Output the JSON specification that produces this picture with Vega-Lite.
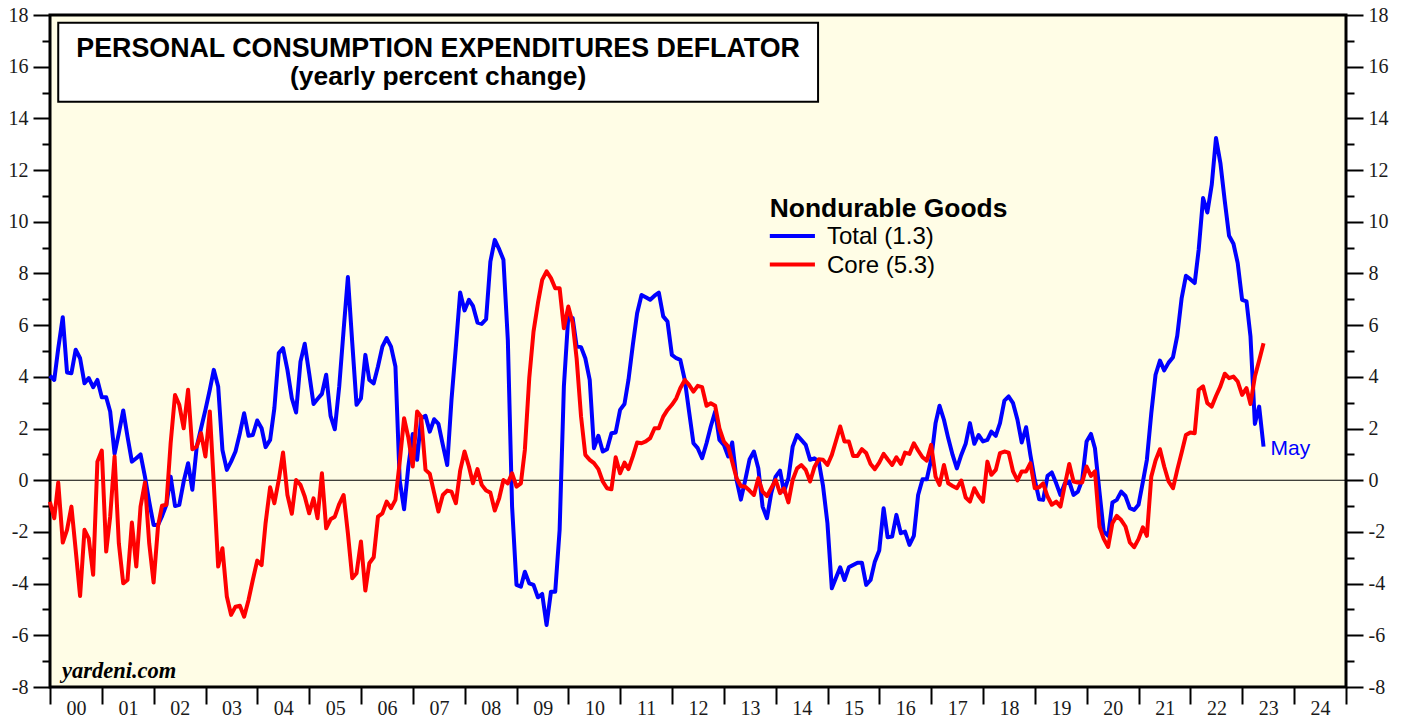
{
 "$schema": "https://vega.github.io/schema/vega-lite/v6.json",
 "width": 1296,
 "height": 672,
 "autosize": {"type": "none"},
 "padding": {"left": 50, "top": 15, "right": 59, "bottom": 32},
 "background": "white",
 "config": {
  "view": {"stroke": "black", "strokeWidth": 3, "fill": "#FFFDE6"},
  "axis": {"grid": false, "domain": false, "title": null, "labelFont": "Liberation Serif", "labelFontSize": 20, "labelColor": "#1a1a1a", "tickColor": "black", "tickWidth": 2, "labelFlush": false, "labelOverlap": false}
 },
 "datasets": {
  "pce": [
   {"d":"1999-12-31","t":4.04,"c":-0.83},
   {"d":"2000-01-31","t":3.88,"c":-1.47},{"d":"2000-02-28","t":5.1,"c":-0.09},{"d":"2000-03-31","t":6.31,"c":-2.41},{"d":"2000-04-30","t":4.17,"c":-1.92},{"d":"2000-05-31","t":4.14,"c":-1.02},{"d":"2000-06-30","t":5.05,"c":-2.7},{"d":"2000-07-31","t":4.72,"c":-4.48},{"d":"2000-08-31","t":3.75,"c":-1.92},{"d":"2000-09-30","t":3.95,"c":-2.25},{"d":"2000-10-31","t":3.6,"c":-3.66},{"d":"2000-11-30","t":3.88,"c":0.72},{"d":"2000-12-31","t":3.21,"c":1.15},
   {"d":"2001-01-31","t":3.21,"c":-2.76},{"d":"2001-02-28","t":2.66,"c":-1.41},{"d":"2001-03-31","t":1.02,"c":0.92},{"d":"2001-04-30","t":1.82,"c":-2.44},{"d":"2001-05-31","t":2.7,"c":-3.99},{"d":"2001-06-30","t":1.69,"c":-3.86},{"d":"2001-07-31","t":0.72,"c":-1.64},{"d":"2001-08-31","t":0.85,"c":-3.34},{"d":"2001-09-30","t":1.0,"c":-1.02},{"d":"2001-10-31","t":0.14,"c":-0.09},{"d":"2001-11-30","t":-0.83,"c":-2.44},{"d":"2001-12-31","t":-1.73,"c":-3.96},
   {"d":"2002-01-31","t":-1.73,"c":-1.79},{"d":"2002-02-28","t":-1.4,"c":-0.99},{"d":"2002-03-31","t":-0.95,"c":-0.95},{"d":"2002-04-30","t":0.14,"c":1.43},{"d":"2002-05-31","t":-1.0,"c":3.3},{"d":"2002-06-30","t":-0.95,"c":2.92},{"d":"2002-07-31","t":-0.05,"c":2.01},{"d":"2002-08-31","t":0.66,"c":3.5},{"d":"2002-09-30","t":-0.37,"c":1.2},{"d":"2002-10-31","t":1.3,"c":1.3},{"d":"2002-11-30","t":2.0,"c":1.82},{"d":"2002-12-31","t":2.72,"c":0.92},
   {"d":"2003-01-31","t":3.5,"c":2.66},{"d":"2003-02-28","t":4.27,"c":-0.12},{"d":"2003-03-31","t":3.63,"c":-3.34},{"d":"2003-04-30","t":1.17,"c":-2.63},{"d":"2003-05-31","t":0.4,"c":-4.5},{"d":"2003-06-30","t":0.72,"c":-5.21},{"d":"2003-07-31","t":1.11,"c":-4.89},{"d":"2003-08-31","t":1.82,"c":-4.86},{"d":"2003-09-30","t":2.59,"c":-5.28},{"d":"2003-10-31","t":1.72,"c":-4.63},{"d":"2003-11-30","t":1.75,"c":-3.86},{"d":"2003-12-31","t":2.31,"c":-3.11},
   {"d":"2004-01-31","t":2.01,"c":-3.28},{"d":"2004-02-28","t":1.28,"c":-1.66},{"d":"2004-03-31","t":1.56,"c":-0.27},{"d":"2004-04-30","t":2.79,"c":-0.89},{"d":"2004-05-31","t":4.92,"c":0.01},{"d":"2004-06-30","t":5.11,"c":1.07},{"d":"2004-07-31","t":4.27,"c":-0.57},{"d":"2004-08-31","t":3.17,"c":-1.3},{"d":"2004-09-30","t":2.62,"c":0.01},{"d":"2004-10-31","t":4.59,"c":-0.18},{"d":"2004-11-30","t":5.28,"c":-0.63},{"d":"2004-12-31","t":4.14,"c":-1.28},
   {"d":"2005-01-31","t":2.95,"c":-0.7},{"d":"2005-02-28","t":3.14,"c":-1.47},{"d":"2005-03-31","t":3.34,"c":0.27},{"d":"2005-04-30","t":4.08,"c":-1.86},{"d":"2005-05-31","t":2.49,"c":-1.51},{"d":"2005-06-30","t":1.97,"c":-1.41},{"d":"2005-07-31","t":3.63,"c":-0.92},{"d":"2005-08-31","t":5.82,"c":-0.57},{"d":"2005-09-30","t":7.86,"c":-2.05},{"d":"2005-10-31","t":5.3,"c":-3.79},{"d":"2005-11-30","t":2.92,"c":-3.6},{"d":"2005-12-31","t":3.17,"c":-2.37},
   {"d":"2006-01-31","t":4.85,"c":-4.27},{"d":"2006-02-28","t":3.88,"c":-3.21},{"d":"2006-03-31","t":3.75,"c":-2.98},{"d":"2006-04-30","t":4.4,"c":-1.41},{"d":"2006-05-31","t":5.17,"c":-1.28},{"d":"2006-06-30","t":5.5,"c":-0.83},{"d":"2006-07-31","t":5.17,"c":-1.08},{"d":"2006-08-31","t":4.4,"c":-0.76},{"d":"2006-09-30","t":0.0,"c":0.7},{"d":"2006-10-31","t":-1.12,"c":2.4},{"d":"2006-11-30","t":0.53,"c":1.65},{"d":"2006-12-31","t":1.79,"c":0.53},
   {"d":"2007-01-31","t":0.79,"c":2.66},{"d":"2007-02-28","t":2.4,"c":2.46},{"d":"2007-03-31","t":2.49,"c":0.4},{"d":"2007-04-30","t":1.88,"c":0.25},{"d":"2007-05-31","t":2.36,"c":-0.5},{"d":"2007-06-30","t":2.18,"c":-1.21},{"d":"2007-07-31","t":1.37,"c":-0.57},{"d":"2007-08-31","t":0.59,"c":-0.4},{"d":"2007-09-30","t":3.11,"c":-0.44},{"d":"2007-10-31","t":5.17,"c":-0.89},{"d":"2007-11-30","t":7.26,"c":0.37},{"d":"2007-12-31","t":6.57,"c":1.11},
   {"d":"2008-01-31","t":6.98,"c":0.53},{"d":"2008-02-28","t":6.75,"c":-0.12},{"d":"2008-03-31","t":6.1,"c":0.43},{"d":"2008-04-30","t":6.05,"c":-0.18},{"d":"2008-05-31","t":6.23,"c":-0.4},{"d":"2008-06-30","t":8.46,"c":-0.48},{"d":"2008-07-31","t":9.3,"c":-1.17},{"d":"2008-08-31","t":8.94,"c":-0.7},{"d":"2008-09-30","t":8.53,"c":0.01},{"d":"2008-10-31","t":5.43,"c":-0.12},{"d":"2008-11-30","t":-1.02,"c":0.27},{"d":"2008-12-31","t":-4.05,"c":-0.25},
   {"d":"2009-01-31","t":-4.12,"c":-0.12},{"d":"2009-02-28","t":-3.54,"c":1.17},{"d":"2009-03-31","t":-3.99,"c":3.95},{"d":"2009-04-30","t":-4.05,"c":5.75},{"d":"2009-05-31","t":-4.53,"c":6.85},{"d":"2009-06-30","t":-4.4,"c":7.75},{"d":"2009-07-31","t":-5.6,"c":8.08},{"d":"2009-08-31","t":-4.31,"c":7.82},{"d":"2009-09-30","t":-4.31,"c":7.43},{"d":"2009-10-31","t":-1.92,"c":7.43},{"d":"2009-11-30","t":3.63,"c":5.88},{"d":"2009-12-31","t":6.34,"c":6.72},
   {"d":"2010-01-31","t":6.27,"c":6.08},{"d":"2010-02-28","t":5.17,"c":4.7},{"d":"2010-03-31","t":5.15,"c":2.46},{"d":"2010-04-30","t":4.72,"c":0.98},{"d":"2010-05-31","t":3.88,"c":0.79},{"d":"2010-06-30","t":1.24,"c":0.66},{"d":"2010-07-31","t":1.72,"c":0.43},{"d":"2010-08-31","t":1.11,"c":-0.05},{"d":"2010-09-30","t":1.2,"c":-0.31},{"d":"2010-10-31","t":1.82,"c":-0.35},{"d":"2010-11-30","t":1.85,"c":0.89},{"d":"2010-12-31","t":2.72,"c":0.27},
   {"d":"2011-01-31","t":2.95,"c":0.68},{"d":"2011-02-28","t":3.88,"c":0.43},{"d":"2011-03-31","t":5.24,"c":0.92},{"d":"2011-04-30","t":6.46,"c":1.46},{"d":"2011-05-31","t":7.17,"c":1.43},{"d":"2011-06-30","t":7.08,"c":1.5},{"d":"2011-07-31","t":6.98,"c":1.63},{"d":"2011-08-31","t":7.14,"c":2.01},{"d":"2011-09-30","t":7.26,"c":2.01},{"d":"2011-10-31","t":6.34,"c":2.46},{"d":"2011-11-30","t":6.14,"c":2.72},{"d":"2011-12-31","t":4.85,"c":2.92},
   {"d":"2012-01-31","t":4.72,"c":3.17},{"d":"2012-02-28","t":4.66,"c":3.56},{"d":"2012-03-31","t":3.88,"c":3.88},{"d":"2012-04-30","t":2.66,"c":3.69},{"d":"2012-05-31","t":1.43,"c":3.43},{"d":"2012-06-30","t":1.24,"c":3.65},{"d":"2012-07-31","t":0.85,"c":3.6},{"d":"2012-08-31","t":1.43,"c":2.88},{"d":"2012-09-30","t":2.08,"c":2.98},{"d":"2012-10-31","t":2.66,"c":2.88},{"d":"2012-11-30","t":1.56,"c":2.01},{"d":"2012-12-31","t":1.37,"c":1.5},
   {"d":"2013-01-31","t":0.92,"c":1.3},{"d":"2013-02-28","t":1.46,"c":0.72},{"d":"2013-03-31","t":0.01,"c":0.08},{"d":"2013-04-30","t":-0.75,"c":-0.22},{"d":"2013-05-31","t":0.01,"c":-0.25},{"d":"2013-06-30","t":0.8,"c":-0.4},{"d":"2013-07-31","t":1.11,"c":-0.57},{"d":"2013-08-31","t":0.46,"c":0.08},{"d":"2013-09-30","t":-1.02,"c":-0.44},{"d":"2013-10-31","t":-1.47,"c":-0.61},{"d":"2013-11-30","t":-0.5,"c":-0.31},{"d":"2013-12-31","t":0.14,"c":0.01},
   {"d":"2014-01-31","t":0.37,"c":-0.5},{"d":"2014-02-28","t":-0.44,"c":-0.31},{"d":"2014-03-31","t":0.08,"c":-0.86},{"d":"2014-04-30","t":1.3,"c":0.01},{"d":"2014-05-31","t":1.75,"c":0.46},{"d":"2014-06-30","t":1.56,"c":0.59},{"d":"2014-07-31","t":1.37,"c":0.4},{"d":"2014-08-31","t":0.79,"c":-0.05},{"d":"2014-09-30","t":0.85,"c":0.5},{"d":"2014-10-31","t":0.72,"c":0.81},{"d":"2014-11-30","t":-0.22,"c":0.79},{"d":"2014-12-31","t":-1.66,"c":0.59},
   {"d":"2015-01-31","t":-4.18,"c":0.98},{"d":"2015-02-28","t":-3.79,"c":1.5},{"d":"2015-03-31","t":-3.37,"c":2.08},{"d":"2015-04-30","t":-3.86,"c":1.5},{"d":"2015-05-31","t":-3.37,"c":1.5},{"d":"2015-06-30","t":-3.28,"c":0.94},{"d":"2015-07-31","t":-3.19,"c":0.94},{"d":"2015-08-31","t":-3.19,"c":1.2},{"d":"2015-09-30","t":-4.05,"c":1.05},{"d":"2015-10-31","t":-3.86,"c":0.63},{"d":"2015-11-30","t":-3.15,"c":0.43},{"d":"2015-12-31","t":-2.72,"c":0.68},
   {"d":"2016-01-31","t":-1.08,"c":1.02},{"d":"2016-02-28","t":-2.21,"c":0.81},{"d":"2016-03-31","t":-2.18,"c":0.59},{"d":"2016-04-30","t":-1.34,"c":0.89},{"d":"2016-05-31","t":-2.05,"c":0.63},{"d":"2016-06-30","t":-1.99,"c":1.07},{"d":"2016-07-31","t":-2.5,"c":1.02},{"d":"2016-08-31","t":-2.15,"c":1.43},{"d":"2016-09-30","t":-0.57,"c":1.15},{"d":"2016-10-31","t":0.04,"c":0.89},{"d":"2016-11-30","t":0.04,"c":0.76},{"d":"2016-12-31","t":0.8,"c":1.37},
   {"d":"2017-01-31","t":2.21,"c":0.14},{"d":"2017-02-28","t":2.88,"c":-0.18},{"d":"2017-03-31","t":2.34,"c":0.59},{"d":"2017-04-30","t":1.63,"c":-0.12},{"d":"2017-05-31","t":0.98,"c":-0.22},{"d":"2017-06-30","t":0.46,"c":-0.31},{"d":"2017-07-31","t":0.98,"c":-0.01},{"d":"2017-08-31","t":1.41,"c":-0.67},{"d":"2017-09-30","t":2.21,"c":-0.83},{"d":"2017-10-31","t":1.41,"c":-0.31},{"d":"2017-11-30","t":1.75,"c":-0.61},{"d":"2017-12-31","t":1.5,"c":-0.83},
   {"d":"2018-01-31","t":1.56,"c":0.72},{"d":"2018-02-28","t":1.88,"c":0.21},{"d":"2018-03-31","t":1.72,"c":0.4},{"d":"2018-04-30","t":2.21,"c":1.05},{"d":"2018-05-31","t":3.08,"c":1.11},{"d":"2018-06-30","t":3.24,"c":1.07},{"d":"2018-07-31","t":2.98,"c":0.34},{"d":"2018-08-31","t":2.34,"c":-0.01},{"d":"2018-09-30","t":1.46,"c":0.34},{"d":"2018-10-31","t":2.05,"c":0.34},{"d":"2018-11-30","t":0.98,"c":0.66},{"d":"2018-12-31","t":0.01,"c":-0.31},
   {"d":"2019-01-31","t":-0.74,"c":-0.27},{"d":"2019-02-28","t":-0.76,"c":-0.12},{"d":"2019-03-31","t":0.17,"c":-0.63},{"d":"2019-04-30","t":0.3,"c":-0.95},{"d":"2019-05-31","t":-0.12,"c":-0.83},{"d":"2019-06-30","t":-0.57,"c":-1.02},{"d":"2019-07-31","t":-0.12,"c":-0.18},{"d":"2019-08-31","t":-0.05,"c":0.63},{"d":"2019-09-30","t":-0.57,"c":-0.05},{"d":"2019-10-31","t":-0.44,"c":-0.09},{"d":"2019-11-30","t":0.01,"c":-0.09},{"d":"2019-12-31","t":1.5,"c":0.53},
   {"d":"2020-01-31","t":1.79,"c":0.17},{"d":"2020-02-28","t":1.24,"c":0.34},{"d":"2020-03-31","t":-0.45,"c":-1.8},{"d":"2020-04-30","t":-1.99,"c":-2.27},{"d":"2020-05-31","t":-2.15,"c":-2.58},{"d":"2020-06-30","t":-0.86,"c":-1.66},{"d":"2020-07-31","t":-0.76,"c":-1.38},{"d":"2020-08-31","t":-0.44,"c":-1.54},{"d":"2020-09-30","t":-0.61,"c":-1.79},{"d":"2020-10-31","t":-1.08,"c":-2.41},{"d":"2020-11-30","t":-1.15,"c":-2.59},{"d":"2020-12-31","t":-0.95,"c":-2.28},
   {"d":"2021-01-31","t":-0.05,"c":-1.82},{"d":"2021-02-28","t":0.79,"c":-2.15},{"d":"2021-03-31","t":2.59,"c":0.14},{"d":"2021-04-30","t":4.08,"c":0.76},{"d":"2021-05-31","t":4.63,"c":1.2},{"d":"2021-06-30","t":4.25,"c":0.53},{"d":"2021-07-31","t":4.55,"c":-0.05},{"d":"2021-08-31","t":4.76,"c":-0.31},{"d":"2021-09-30","t":5.59,"c":0.4},{"d":"2021-10-31","t":7.05,"c":1.07},{"d":"2021-11-30","t":7.91,"c":1.75},{"d":"2021-12-31","t":7.78,"c":1.85},
   {"d":"2022-01-31","t":7.63,"c":1.82},{"d":"2022-02-28","t":8.92,"c":3.5},{"d":"2022-03-31","t":10.92,"c":3.63},{"d":"2022-04-30","t":10.36,"c":2.98},{"d":"2022-05-31","t":11.43,"c":2.85},{"d":"2022-06-30","t":13.24,"c":3.26},{"d":"2022-07-31","t":12.27,"c":3.63},{"d":"2022-08-31","t":10.79,"c":4.12},{"d":"2022-09-30","t":9.46,"c":3.95},{"d":"2022-10-31","t":9.15,"c":4.01},{"d":"2022-11-30","t":8.4,"c":3.82},{"d":"2022-12-31","t":6.98,"c":3.3},
   {"d":"2023-01-31","t":6.92,"c":3.56},{"d":"2023-02-28","t":5.56,"c":2.95},{"d":"2023-03-31","t":2.18,"c":4.01},{"d":"2023-04-30","t":2.85,"c":4.63},{"d":"2023-05-31","t":1.3,"c":5.3}
  ]
 },
 "resolve": {"axis": {"x": "independent", "y": "independent"}},
 "layer": [
  {
   "data": {"values": [{}]},
   "mark": {"type": "rule", "color": "black", "strokeWidth": 1.2},
   "encoding": {
    "y": {"datum": 0, "type": "quantitative", "axis": null, "scale": {"domain": [-8, 18], "nice": false, "zero": false}}
   }
  },
  {
   "data": {"name": "pce"},
   "mark": {"type": "line", "color": "#0000FF", "strokeWidth": 4, "strokeJoin": "round"},
   "encoding": {
    "x": {"field": "d", "type": "temporal", "scale": {"type": "utc", "domain": [{"year": 2000, "month": 1, "date": 1, "utc": true}, {"year": 2025, "month": 1, "date": 1, "utc": true}], "nice": false},
     "axis": {"orient": "bottom", "values": [
      {"year": 2000, "month": 1, "date": 1, "utc": true}, {"year": 2001, "month": 1, "date": 1, "utc": true}, {"year": 2002, "month": 1, "date": 1, "utc": true}, {"year": 2003, "month": 1, "date": 1, "utc": true}, {"year": 2004, "month": 1, "date": 1, "utc": true}, {"year": 2005, "month": 1, "date": 1, "utc": true}, {"year": 2006, "month": 1, "date": 1, "utc": true}, {"year": 2007, "month": 1, "date": 1, "utc": true}, {"year": 2008, "month": 1, "date": 1, "utc": true}, {"year": 2009, "month": 1, "date": 1, "utc": true}, {"year": 2010, "month": 1, "date": 1, "utc": true}, {"year": 2011, "month": 1, "date": 1, "utc": true}, {"year": 2012, "month": 1, "date": 1, "utc": true}, {"year": 2013, "month": 1, "date": 1, "utc": true}, {"year": 2014, "month": 1, "date": 1, "utc": true}, {"year": 2015, "month": 1, "date": 1, "utc": true}, {"year": 2016, "month": 1, "date": 1, "utc": true}, {"year": 2017, "month": 1, "date": 1, "utc": true}, {"year": 2018, "month": 1, "date": 1, "utc": true}, {"year": 2019, "month": 1, "date": 1, "utc": true}, {"year": 2020, "month": 1, "date": 1, "utc": true}, {"year": 2021, "month": 1, "date": 1, "utc": true}, {"year": 2022, "month": 1, "date": 1, "utc": true}, {"year": 2023, "month": 1, "date": 1, "utc": true}, {"year": 2024, "month": 1, "date": 1, "utc": true}, {"year": 2025, "month": 1, "date": 1, "utc": true}],
      "labelExpr": "utcyear(datum.value) >= 2025 ? '' : utcFormat(datum.value, '%y')", "labelOffset": 26, "tickSize": 17, "labelPadding": -6}},
    "y": {"field": "t", "type": "quantitative", "scale": {"domain": [-8, 18], "nice": false, "zero": false}, "axis": {"orient": "left", "values": [-8, -6, -4, -2, 0, 2, 4, 6, 8, 10, 12, 14, 16, 18], "tickSize": 17, "labelPadding": 5, "labelExpr": "'' + datum.value"}}
   }
  },
  {
   "data": {"name": "pce"},
   "mark": {"type": "line", "opacity": 0},
   "encoding": {
    "x": {"field": "d", "type": "temporal", "axis": null, "scale": {"type": "utc", "domain": [{"year": 2000, "month": 1, "date": 1, "utc": true}, {"year": 2025, "month": 1, "date": 1, "utc": true}], "nice": false}},
    "y": {"field": "t", "type": "quantitative", "scale": {"domain": [-8, 18], "nice": false, "zero": false}, "axis": {"orient": "left", "values": [-7, -5, -3, -1, 1, 3, 5, 7, 9, 11, 13, 15, 17], "tickSize": 8, "labels": false}}
   }
  },
  {
   "data": {"name": "pce"},
   "mark": {"type": "line", "opacity": 0},
   "encoding": {
    "x": {"field": "d", "type": "temporal", "axis": null, "scale": {"type": "utc", "domain": [{"year": 2000, "month": 1, "date": 1, "utc": true}, {"year": 2025, "month": 1, "date": 1, "utc": true}], "nice": false}},
    "y": {"field": "t", "type": "quantitative", "scale": {"domain": [-8, 18], "nice": false, "zero": false}, "axis": {"orient": "right", "values": [-7, -5, -3, -1, 1, 3, 5, 7, 9, 11, 13, 15, 17], "tickSize": 8, "labels": false}}
   }
  },
  {
   "data": {"name": "pce"},
   "mark": {"type": "line", "color": "#FF0000", "strokeWidth": 4, "strokeJoin": "round"},
   "encoding": {
    "x": {"field": "d", "type": "temporal", "axis": null, "scale": {"type": "utc", "domain": [{"year": 2000, "month": 1, "date": 1, "utc": true}, {"year": 2025, "month": 1, "date": 1, "utc": true}], "nice": false}},
    "y": {"field": "c", "type": "quantitative", "scale": {"domain": [-8, 18], "nice": false, "zero": false}, "axis": {"orient": "right", "values": [-8, -6, -4, -2, 0, 2, 4, 6, 8, 10, 12, 14, 16, 18], "tickSize": 17, "labelPadding": 5, "labelExpr": "'' + datum.value"}}
   }
  },
  {
   "data": {"values": [{}]},
   "mark": {"type": "rect", "fill": "white", "stroke": "black", "strokeWidth": 2},
   "encoding": {
    "x": {"datum": {"year": 2000, "month": 2, "date": 28, "utc": true}, "type": "temporal", "axis": null},
    "x2": {"datum": {"year": 2014, "month": 10, "date": 26, "utc": true}},
    "y": {"datum": 17.7, "type": "quantitative", "axis": null},
    "y2": {"datum": 14.64}
   }
  },
  {
   "data": {"values": [{}]},
   "mark": {"type": "text", "text": "PERSONAL CONSUMPTION EXPENDITURES DEFLATOR", "font": "Liberation Sans", "fontSize": 26.8, "fontWeight": "bold", "align": "center", "baseline": "alphabetic", "color": "black"},
   "encoding": {
    "x": {"datum": {"year": 2007, "month": 6, "date": 28, "utc": true}, "type": "temporal", "axis": null},
    "y": {"datum": 16.36, "type": "quantitative", "axis": null}
   }
  },
  {
   "data": {"values": [{}]},
   "mark": {"type": "text", "text": "(yearly percent change)", "font": "Liberation Sans", "fontSize": 26.4, "fontWeight": "bold", "align": "center", "baseline": "alphabetic", "color": "black"},
   "encoding": {
    "x": {"datum": {"year": 2007, "month": 6, "date": 28, "utc": true}, "type": "temporal", "axis": null},
    "y": {"datum": 15.28, "type": "quantitative", "axis": null}
   }
  },
  {
   "data": {"values": [{}]},
   "mark": {"type": "text", "text": "Nondurable Goods", "font": "Liberation Sans", "fontSize": 26.4, "fontWeight": "bold", "align": "left", "baseline": "alphabetic", "color": "black"},
   "encoding": {
    "x": {"datum": {"year": 2013, "month": 11, "date": 20, "utc": true}, "type": "temporal", "axis": null},
    "y": {"datum": 10.18, "type": "quantitative", "axis": null}
   }
  },
  {
   "data": {"values": [{}]},
   "mark": {"type": "rule", "color": "#0000FF", "strokeWidth": 4},
   "encoding": {
    "x": {"datum": {"year": 2013, "month": 11, "date": 20, "utc": true}, "type": "temporal", "axis": null},
    "x2": {"datum": {"year": 2014, "month": 10, "date": 4, "utc": true}},
    "y": {"datum": 9.45, "type": "quantitative", "axis": null}
   }
  },
  {
   "data": {"values": [{}]},
   "mark": {"type": "rule", "color": "#FF0000", "strokeWidth": 4},
   "encoding": {
    "x": {"datum": {"year": 2013, "month": 11, "date": 20, "utc": true}, "type": "temporal", "axis": null},
    "x2": {"datum": {"year": 2014, "month": 10, "date": 4, "utc": true}},
    "y": {"datum": 8.35, "type": "quantitative", "axis": null}
   }
  },
  {
   "data": {"values": [{}]},
   "mark": {"type": "text", "text": "Total (1.3)", "font": "Liberation Sans", "fontSize": 24, "align": "left", "baseline": "alphabetic", "color": "black"},
   "encoding": {
    "x": {"datum": {"year": 2014, "month": 12, "date": 28, "utc": true}, "type": "temporal", "axis": null},
    "y": {"datum": 9.13, "type": "quantitative", "axis": null}
   }
  },
  {
   "data": {"values": [{}]},
   "mark": {"type": "text", "text": "Core (5.3)", "font": "Liberation Sans", "fontSize": 24, "align": "left", "baseline": "alphabetic", "color": "black"},
   "encoding": {
    "x": {"datum": {"year": 2014, "month": 12, "date": 28, "utc": true}, "type": "temporal", "axis": null},
    "y": {"datum": 8.03, "type": "quantitative", "axis": null}
   }
  },
  {
   "data": {"values": [{}]},
   "mark": {"type": "text", "text": "May", "font": "Liberation Sans", "fontSize": 21, "align": "left", "baseline": "alphabetic", "color": "#0000FF"},
   "encoding": {
    "x": {"datum": {"year": 2023, "month": 7, "date": 19, "utc": true}, "type": "temporal", "axis": null},
    "y": {"datum": 0.97, "type": "quantitative", "axis": null}
   }
  },
  {
   "data": {"values": [{}]},
   "mark": {"type": "text", "text": "yardeni.com", "font": "Liberation Serif", "fontSize": 22.5, "fontWeight": "bold", "fontStyle": "italic", "align": "left", "baseline": "alphabetic", "color": "black"},
   "encoding": {
    "x": {"datum": {"year": 2000, "month": 3, "date": 25, "utc": true}, "type": "temporal", "axis": null},
    "y": {"datum": -7.67, "type": "quantitative", "axis": null}
   }
  }
 ]
}
